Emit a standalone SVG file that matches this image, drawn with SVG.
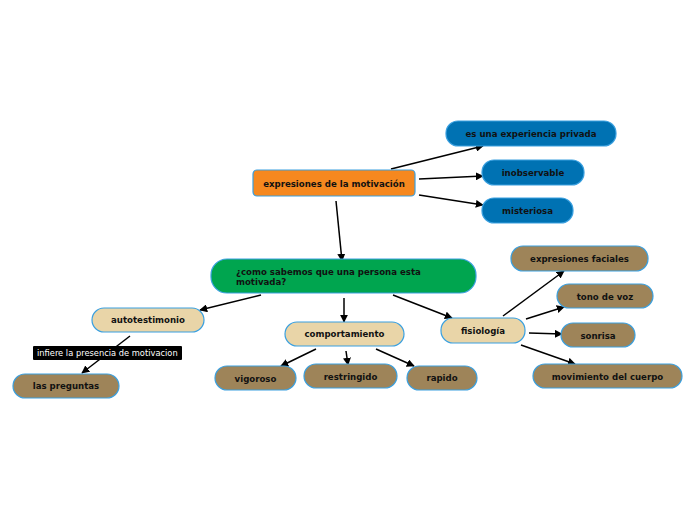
<svg xmlns="http://www.w3.org/2000/svg" width="696" height="520" viewBox="0 0 696 520">
<style>
.n{stroke:#3AA0E0;stroke-width:1.2}
.t{font-family:"DejaVu Sans",sans-serif;font-weight:bold;font-size:8.6px;fill:#111;text-anchor:middle}
.c{stroke:#000;stroke-width:1.5;fill:none;marker-end:url(#a)}
.o{fill:#F5881F}.b{fill:#0072B3}.g{fill:#00A54F}.be{fill:#E9D5A8}.br{fill:#9E8459}
</style>
<defs>
<marker id="a" viewBox="0 0 10 10" refX="9" refY="5" markerWidth="8" markerHeight="8" orient="auto" markerUnits="userSpaceOnUse">
<path d="M0,0L10,5L0,10z" fill="#000"/>
</marker>
</defs>
<rect width="696" height="520" fill="#fff"/>
<g id="connectors">
<line class="c" x1="391" y1="169" x2="483" y2="146"/>
<line class="c" x1="419" y1="179" x2="483" y2="176"/>
<line class="c" x1="419" y1="195" x2="483" y2="205"/>
<line class="c" x1="336" y1="201" x2="342" y2="261"/>
<line class="c" x1="261" y1="295" x2="200" y2="310"/>
<line class="c" x1="344" y1="298" x2="344" y2="322"/>
<line class="c" x1="393" y1="295" x2="452" y2="318"/>
<line class="c" x1="130" y1="336" x2="82" y2="373"/>
<line class="c" x1="316" y1="349" x2="281" y2="366"/>
<line class="c" x1="346" y1="351" x2="348" y2="365"/>
<line class="c" x1="376" y1="349" x2="414" y2="366"/>
<line class="c" x1="503" y1="316" x2="564" y2="271"/>
<line class="c" x1="526" y1="319" x2="564" y2="307"/>
<line class="c" x1="529" y1="333" x2="562" y2="334"/>
<line class="c" x1="521" y1="345" x2="575" y2="364"/>
</g>
<g id="n1"><rect class="n o" x="253" y="170" width="162" height="26" rx="4"/><text class="t" x="334" y="187">expresiones de la motivación</text></g>
<g id="n2"><rect class="n b" x="446" y="121" width="170" height="25" rx="12"/><text class="t" x="531" y="137">es una experiencia privada</text></g>
<g id="n3"><rect class="n b" x="482" y="160" width="102" height="25" rx="12"/><text class="t" x="533" y="176">inobservable</text></g>
<g id="n4"><rect class="n b" x="482" y="198" width="91" height="25" rx="12"/><text class="t" x="527.5" y="214">misteriosa</text></g>
<g id="n5"><rect class="n g" x="211" y="259" width="265" height="34" rx="16"/><text class="t" style="text-anchor:start" x="236" y="275">¿como sabemos que una persona esta</text><text class="t" style="text-anchor:start" x="236" y="285">motivada?</text></g>
<g id="n6"><rect class="n be" x="92" y="308" width="112" height="24" rx="12"/><text class="t" x="148" y="323">autotestimonio</text></g>
<g id="n7"><rect class="n be" x="285" y="322" width="119" height="24" rx="12"/><text class="t" x="344.5" y="337">comportamiento</text></g>
<g id="n8"><rect class="n be" x="441" y="318" width="84" height="25" rx="12"/><text class="t" x="483" y="334">fisiología</text></g>
<g id="n9"><rect class="n br" x="13" y="374" width="106" height="24" rx="12"/><text class="t" x="66" y="389">las preguntas</text></g>
<g id="n10"><rect class="n br" x="215" y="366" width="81" height="24" rx="12"/><text class="t" x="255.5" y="382">vigoroso</text></g>
<g id="n11"><rect class="n br" x="304" y="364" width="93" height="24" rx="12"/><text class="t" x="350.5" y="380">restringido</text></g>
<g id="n12"><rect class="n br" x="407" y="366" width="70" height="24" rx="12"/><text class="t" x="442" y="381">rapido</text></g>
<g id="n13"><rect class="n br" x="511" y="246" width="137" height="25" rx="12"/><text class="t" x="579.5" y="262">expresiones faciales</text></g>
<g id="n14"><rect class="n br" x="557" y="284" width="96" height="24" rx="12"/><text class="t" x="605" y="300">tono de voz</text></g>
<g id="n15"><rect class="n br" x="561" y="323" width="74" height="24" rx="12"/><text class="t" x="598" y="339">sonrisa</text></g>
<g id="n16"><rect class="n br" x="533" y="364" width="149" height="24" rx="12"/><text class="t" x="607.5" y="380">movimiento del cuerpo</text></g>
<g id="label"><rect x="33" y="346" width="149" height="14" rx="1" fill="#000"/><text x="37" y="356" style="font-family:'DejaVu Sans',sans-serif;font-size:8.3px;fill:#fff">infiere la presencia de motivacion</text></g>
</svg>
